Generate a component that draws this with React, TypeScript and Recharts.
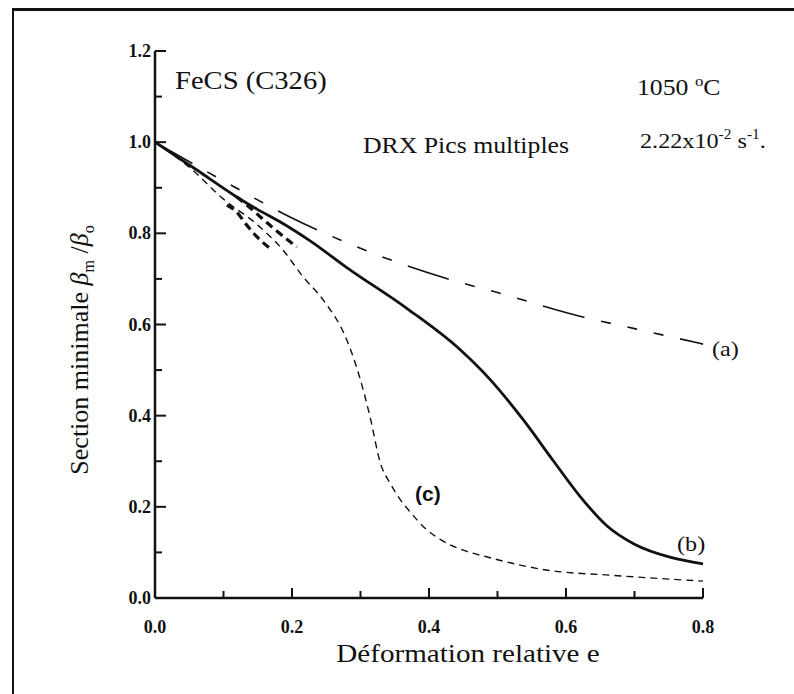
import React from "react";
import { LineChart, Line, XAxis, YAxis } from "recharts";

// déformation relative e (x) and section minimale (y) for each curve
const eA = [0, 0.1, 0.197, 0.329, 0.421, 0.5, 0.626, 0.7, 0.8];
const sA = [1.0, 0.915, 0.836, 0.75, 0.703, 0.67, 0.616, 0.591, 0.557];

const eB = [0, 0.06, 0.117, 0.15, 0.183, 0.227, 0.28, 0.368, 0.446, 0.49, 0.538, 0.582, 0.621, 0.66, 0.7, 0.753, 0.8];
const sB = [1.0, 0.94, 0.882, 0.852, 0.825, 0.783, 0.725, 0.635, 0.544, 0.478, 0.39, 0.3, 0.222, 0.158, 0.118, 0.089, 0.075];

const eC = [0, 0.05, 0.1, 0.15, 0.187, 0.216, 0.246, 0.28, 0.3, 0.314, 0.329, 0.344, 0.358, 0.373, 0.395, 0.417, 0.45, 0.485, 0.573, 0.665, 0.8];
const sC = [1.0, 0.945, 0.875, 0.818, 0.763, 0.705, 0.653, 0.566, 0.478, 0.397, 0.296, 0.25, 0.216, 0.188, 0.152, 0.128, 0.105, 0.09, 0.061, 0.05, 0.037];

// branches of the multiple peaks
const eD1 = [0.119, 0.134, 0.154, 0.173, 0.207];
const sD1 = [0.88, 0.862, 0.836, 0.811, 0.77];
const eD2 = [0.105, 0.119, 0.134, 0.149, 0.168];
const sD2 = [0.862, 0.847, 0.818, 0.792, 0.767];

const xTicks = [0, 0.1, 0.2, 0.3, 0.4, 0.5, 0.6, 0.7, 0.8];
const yTicks = [0, 0.1, 0.2, 0.3, 0.4, 0.5, 0.6, 0.7, 0.8, 0.9, 1.0, 1.1, 1.2];

const pts = (xs: number[], ys: number[]) => xs.map((e, i) => ({ e, s: ys[i] }));

const INK = "#111";
const SERIF = "'Liberation Serif', 'Times New Roman', serif";

function isMajor(v: number) {
  return Math.round(v * 10) % 2 === 0;
}

const YTick = (props: any) => {
  const { x, y, payload } = props;
  const v = payload.value as number;
  const major = isMajor(v);
  return (
    <g>
      <line x1={x} x2={x + (major ? 11 : 7)} y1={y} y2={y} stroke={INK} strokeWidth={2} />
      {major && (
        <text x={x - 4} y={y + 6} textAnchor="end" fontFamily={SERIF} fontWeight="bold" fontSize={18} fill={INK}>
          {v.toFixed(1)}
        </text>
      )}
    </g>
  );
};

const XTick = (props: any) => {
  const { x, y, payload } = props;
  const v = payload.value as number;
  const major = isMajor(v);
  return (
    <g>
      <line x1={x} x2={x} y1={y} y2={y - (major ? 10 : 7)} stroke={INK} strokeWidth={2} />
      {major && (
        <text x={x} y={y + 35} textAnchor="middle" fontFamily={SERIF} fontWeight="bold" fontSize={18} fill={INK}>
          {v.toFixed(1)}
        </text>
      )}
    </g>
  );
};

export default function App() {
  return (
    <div style={{ position: "absolute", left: 0, top: 0, width: 794, height: 694, background: "#fff", overflow: "hidden" }}>
      <div
        style={{
          position: "absolute",
          left: 12,
          top: 8,
          width: 900,
          height: 900,
          borderLeft: `2px solid ${INK}`,
          borderTop: `3px solid ${INK}`,
        }}
      />
      <LineChart
        width={794}
        height={694}
        margin={{ top: 51, right: 91, bottom: 56, left: 95 }}
        style={{ position: "absolute", left: 0, top: 0 }}
      >
        <XAxis
          type="number"
          dataKey="e"
          domain={[0, 0.8]}
          ticks={xTicks}
          interval={0}
          height={40}
          tickSize={0}
          tickMargin={0}
          tickLine={false}
          tick={XTick}
          axisLine={{ stroke: INK, strokeWidth: 2.5 }}
          allowDuplicatedCategory={false}
        />
        <YAxis
          type="number"
          dataKey="s"
          domain={[0, 1.2]}
          ticks={yTicks}
          interval={0}
          width={60}
          tickSize={0}
          tickMargin={0}
          tickLine={false}
          tick={YTick}
          axisLine={{ stroke: INK, strokeWidth: 2.5 }}
        />
        <Line data={pts(eA, sA)} dataKey="s" type="monotone" stroke={INK} strokeWidth={1.6}
          strokeDasharray="43 17 10 17 10 17 10 17" dot={false} isAnimationActive={false} />
        <Line data={pts(eB, sB)} dataKey="s" type="monotone" stroke={INK} strokeWidth={2.8}
          dot={false} isAnimationActive={false} />
        <Line data={pts(eC, sC)} dataKey="s" type="monotone" stroke={INK} strokeWidth={1.4}
          strokeDasharray="7 5" dot={false} isAnimationActive={false} />
        <Line data={pts(eD1, sD1)} dataKey="s" type="monotone" stroke={INK} strokeWidth={3.2}
          strokeDasharray="8 5" dot={false} isAnimationActive={false} />
        <Line data={pts(eD2, sD2)} dataKey="s" type="monotone" stroke={INK} strokeWidth={3.2}
          strokeDasharray="8 5" dot={false} isAnimationActive={false} />
      </LineChart>
      <svg width={794} height={694} style={{ position: "absolute", left: 0, top: 0, pointerEvents: "none" }}>
        <g fontFamily={SERIF} fill={INK}>
          <text transform="translate(175,89) scale(1.1,1)" fontSize={26}>FeCS (C326)</text>
          <text transform="translate(363,153) scale(1.12,1)" fontSize={23}>DRX Pics multiples</text>
          <text transform="translate(637,95) scale(1.12,1)" fontSize={23}>
            1050 <tspan dy={-9} fontSize={15}>o</tspan>
            <tspan dy={9}>C</tspan>
          </text>
          <text transform="translate(640,148) scale(1.1,1)" fontSize={22}>
            2.22x10<tspan dy={-9} fontSize={14}>-2</tspan>
            <tspan dy={9}> s</tspan>
            <tspan dy={-9} fontSize={14}>-1</tspan>
            <tspan dy={9}>.</tspan>
          </text>
          <text transform="translate(712,356) scale(1.1,1)" fontSize={22}>(a)</text>
          <text transform="translate(677,551) scale(1.1,1)" fontSize={22}>(b)</text>
          <text transform="translate(415,501)" fontSize={21} fontWeight="bold"
            fontFamily="'Liberation Sans', Arial, sans-serif">(c)</text>
          <text transform="translate(468,662) scale(1.12,1)" fontSize={26} textAnchor="middle">
            Déformation relative e
          </text>
          <text transform="translate(88,350) rotate(-90)" fontSize={26} textAnchor="middle">
            Section minimale <tspan fontStyle="italic">β</tspan>
            <tspan dy={6} fontSize={16}>m</tspan>
            <tspan dy={-6}> /</tspan>
            <tspan fontStyle="italic">β</tspan>
            <tspan dy={6} fontSize={16}>o</tspan>
          </text>
        </g>
      </svg>
    </div>
  );
}
